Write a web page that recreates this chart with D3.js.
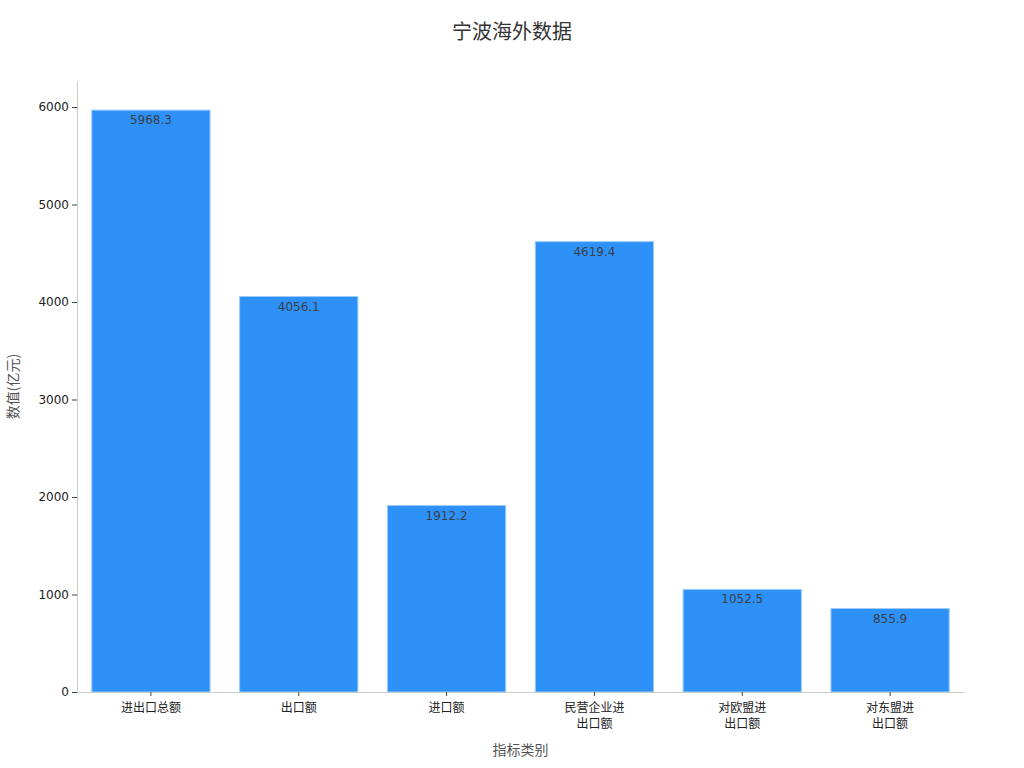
<!DOCTYPE html>
<html>
<head>
<meta charset="utf-8">
<script src="https://cdn.jsdelivr.net/npm/d3@7"></script>
<style>
  body { margin: 0; background: #fff; }
  text { font-family: "DejaVu Sans", "Noto Sans CJK SC", sans-serif; }
</style>
</head>
<body>
<div class="chart"></div>
<script>
// data
const categories = ["进出口总额", "出口额", "进口额", "民营企业进\n出口额", "对欧盟进\n出口额", "对东盟进\n出口额"];
const values = [5968.3, 4056.1, 1912.2, 4619.4, 1052.5, 855.9];
const yTicks = [0, 1000, 2000, 3000, 4000, 5000, 6000];

const W = 1024, H = 768;
const margin = {top: 81, right: 60, bottom: 76, left: 77};
const width = W - margin.left - margin.right,
      height = H - margin.top - margin.bottom;

const root = d3.select(".chart").append("svg")
    .attr("width", W)
    .attr("height", H);

const svg = root.append("g")
    .attr("transform", `translate(${margin.left},${margin.top})`);

const x = d3.scaleBand()
    .domain(categories)
    .range([0, width])
    .paddingInner(0.2)
    .paddingOuter(0.1);

const y = d3.scaleLinear()
    .domain([0, d3.max(values) * 1.05])
    .range([height, 0]);

// title
root.append("text")
    .attr("x", W / 2)
    .attr("y", 39)
    .attr("text-anchor", "middle")
    .attr("font-size", 20)
    .attr("fill", "#333")
    .text("宁波海外数据");

// bars
svg.selectAll(".bar")
    .data(values)
    .join("rect")
    .attr("class", "bar")
    .attr("x", (d, i) => x(categories[i]))
    .attr("y", d => y(d))
    .attr("width", x.bandwidth())
    .attr("height", d => height - y(d))
    .attr("fill", "#2E91F7")
    .attr("stroke", "#9ECBF9")
    .attr("stroke-width", 1);

// value labels
svg.selectAll(".label")
    .data(values)
    .join("text")
    .attr("class", "label")
    .attr("x", (d, i) => x(categories[i]) + x.bandwidth() / 2)
    .attr("y", d => y(d) + 14)
    .attr("text-anchor", "middle")
    .attr("font-size", 12)
    .attr("fill", "#3a3f4a")
    .text(d => d.toFixed(1));

// y axis
svg.append("g")
    .attr("class", "axis y-axis")
    .call(d3.axisLeft(y).tickValues(yTicks).tickFormat(d3.format("d"))
        .tickSize(5).tickPadding(3).tickSizeOuter(0))
    .call(g => g.select(".domain").attr("stroke", "#ccc"))
    .call(g => g.selectAll(".tick line").attr("stroke", "#444"))
    .call(g => g.selectAll(".tick text").attr("font-size", 12).attr("fill", "#222")
        .style("font-family", "'DejaVu Sans', sans-serif"));

// x axis
svg.append("g")
    .attr("class", "axis x-axis")
    .attr("transform", `translate(0,${height})`)
    .call(d3.axisBottom(x).tickSize(4).tickSizeOuter(0).tickFormat(""))
    .call(g => g.select(".domain").attr("stroke", "#ccc"))
    .call(g => g.selectAll(".tick line").attr("stroke", "#444"))
    .call(g => g.selectAll(".tick").append("text")
        .attr("fill", "#222")
        .attr("font-size", 12)
        .attr("text-anchor", "middle")
        .style("font-family", "'Noto Sans CJK SC', sans-serif")
        .each(function(d) {
            const lines = d.split("\n");
            d3.select(this).selectAll("tspan")
                .data(lines)
                .join("tspan")
                .attr("x", 0)
                .attr("y", (l, i) => 20 + i * 16)
                .text(l => l);
        }));

// axis titles
root.append("text")
    .attr("x", margin.left + width / 2)
    .attr("y", 755)
    .attr("text-anchor", "middle")
    .attr("font-size", 14)
    .attr("fill", "#555")
    .style("font-family", "'Noto Sans CJK SC', sans-serif")
    .text("指标类别");

root.append("text")
    .attr("transform", `translate(18,${margin.top + height / 2}) rotate(-90)`)
    .attr("text-anchor", "middle")
    .attr("font-size", 14)
    .attr("fill", "#555")
    .style("font-family", "'Noto Sans CJK SC', sans-serif")
    .text("数值(亿元)");
</script>
</body>
</html>
